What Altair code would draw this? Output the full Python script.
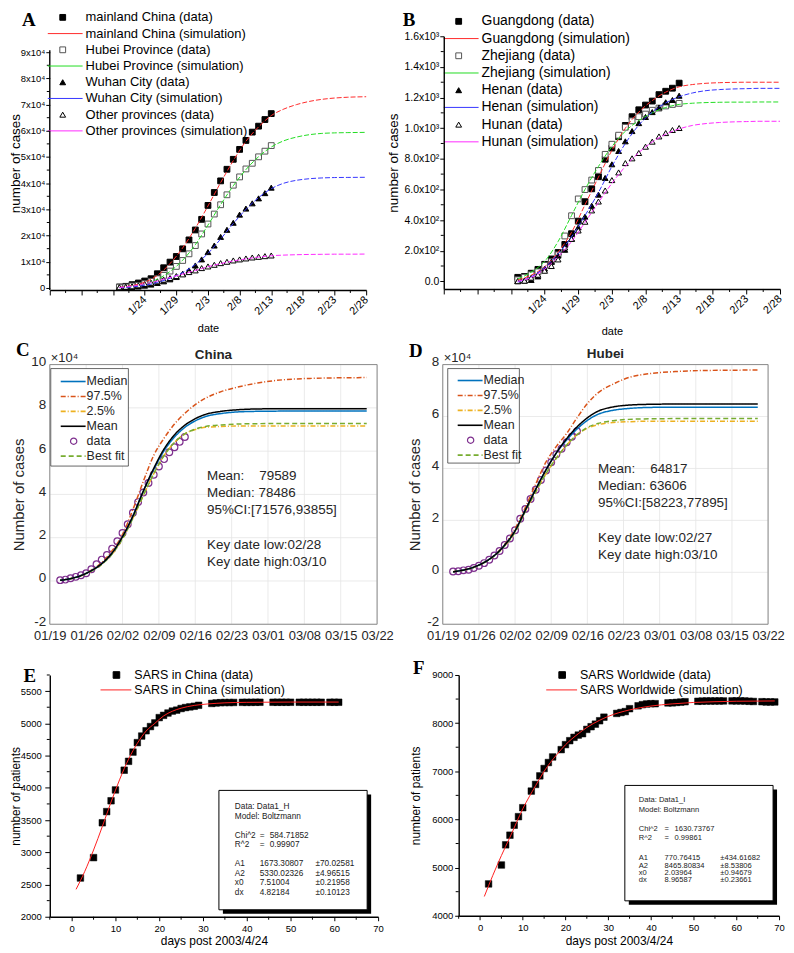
import json
import altair as alt
import pandas as pd

FONT = "Liberation Sans"
SERIF = "Liberation Serif"
ONE = pd.DataFrame({"k": [0]})

# ======================= DATA =======================
# ---- Panel A (day 0 = 1/24) ----
A_DAYS = list(range(-4, 21))  # 1/20 .. 2/13
A_SERIES = ["mainland China", "Hubei Province", "Wuhan City", "Other provinces"]
A_MAINLAND = [380, 630, 1270, 1900, 2660, 3540, 5440, 7720, 9870, 12020, 14940, 18350, 22150,
              26200, 31520, 36450, 40880, 45310, 49110, 52900, 56320, 59490, 61770, 64290, 66560]
A_HUBEI = [300, 380, 760, 1010, 1650, 2530, 3540, 4810, 6450, 8230, 10500, 13040, 16200, 20630,
           24420, 28220, 31770, 35570, 39230, 42400, 45440, 47600, 50060, 52220, 54350]
A_WUHAN = [200, 280, 420, 550, 900, 1300, 1900, 2530, 3290, 4180, 5430, 6700, 8600, 10900,
           13700, 16200, 19500, 22200, 24900, 28000, 30300, 32300, 34200, 36200, 38300]
A_OTHERS = [270, 450, 640, 1010, 1520, 2020, 2530, 3160, 3800, 4560, 5190, 6070, 6710, 7590,
            8220, 8850, 9490, 10000, 10510, 10900, 11270, 11640, 11890, 12150, 12400]
A_SIM_DAYS = [-4, -2, 0, 2, 4, 6, 8, 10, 12, 14, 16, 18, 20, 22, 24, 26, 28, 30, 32, 35]
A_SIM_MAINLAND = [200, 900, 2200, 4800, 9300, 15300, 22800, 31300, 40200, 48600, 56000, 61500,
                  65800, 68300, 70000, 71200, 72000, 72500, 72800, 73000]
A_SIM_HUBEI = [100, 600, 1500, 3300, 6300, 10600, 16500, 24000, 31800, 39000, 45200, 50100,
               53800, 56200, 57600, 58500, 59000, 59200, 59300, 59400]
A_SIM_WUHAN = [100, 400, 1000, 2100, 3700, 5900, 9000, 13200, 18700, 24600, 30000, 34500,
               37900, 40000, 41100, 41700, 42000, 42150, 42200, 42250]
A_SIM_OTHERS = [200, 700, 1600, 2700, 4000, 5300, 6700, 8100, 9300, 10300, 11100, 11800,
                12300, 12550, 12700, 12800, 12850, 12900, 12900, 12950]
A_XTICKS = [-15, -10, -5, 0, 5, 10, 15, 20, 25, 30, 35]
A_XLABELS = ["", "", "", "1/24", "1/29", "2/3", "2/8", "2/13", "2/18", "2/23", "2/28"]
A_XMINOR = [-12.5, -7.5, -2.5, 2.5, 7.5, 12.5, 17.5, 22.5, 27.5, 32.5]
A_YTICKS = [0, 10000, 20000, 30000, 40000, 50000, 60000, 70000, 80000, 90000]
A_YLABELS = ["0", "1x10\u2074", "2x10\u2074", "3x10\u2074", "4x10\u2074", "5x10\u2074",
             "6x10\u2074", "7x10\u2074", "8x10\u2074", "9x10\u2074"]
A_YMINOR = [5000, 15000, 25000, 35000, 45000, 55000, 65000, 75000, 85000]

# ---- Panel B ----
B_SERIES = ["Guangdong", "Zhejiang", "Henan", "Hunan"]
B_GD = [26, 32, 53, 78, 111, 146, 188, 241, 311, 393, 520, 604, 683, 797, 870, 944, 1018, 1075,
        1120, 1151, 1177, 1219, 1241, 1261, 1294]
B_ZJ = [10, 27, 43, 62, 104, 128, 173, 296, 428, 538, 599, 661, 724, 829, 895, 954, 1006, 1048,
        1075, 1092, 1117, 1131, 1145, 1155, 1162]
B_HN = [1, 5, 9, 32, 83, 128, 168, 206, 278, 352, 422, 493, 566, 675, 764, 851, 914, 981, 1033,
        1073, 1105, 1135, 1169, 1184, 1212]
B_HUN = [1, 4, 24, 43, 69, 100, 143, 221, 277, 332, 389, 463, 521, 593, 661, 711, 772, 803, 838,
         879, 912, 946, 968, 988, 1001]
B_SIM_GD = [10, 40, 95, 190, 320, 500, 680, 855, 1000, 1105, 1180, 1235, 1270, 1285, 1293, 1297,
            1299, 1300, 1300, 1300]
B_SIM_ZJ = [15, 60, 130, 260, 430, 600, 750, 880, 980, 1050, 1100, 1135, 1155, 1163, 1167, 1169,
            1170, 1170, 1171, 1171]
B_SIM_HN = [-5, 30, 90, 180, 290, 430, 580, 750, 900, 1020, 1105, 1165, 1205, 1230, 1245, 1252,
            1256, 1258, 1260, 1260]
B_SIM_HUN = [0, 25, 80, 160, 260, 385, 515, 640, 750, 840, 910, 960, 995, 1018, 1030, 1037, 1041,
             1043, 1045, 1045]
B_YTICKS = [0, 200, 400, 600, 800, 1000, 1200, 1400, 1600]
B_YLABELS = ["0.0", "2.0x10\u00b2", "4.0x10\u00b2", "6.0x10\u00b2", "8.0x10\u00b2",
             "1.0x10\u00b3", "1.2x10\u00b3", "1.4x10\u00b3", "1.6x10\u00b3"]
B_YMINOR = [100, 300, 500, 700, 900, 1100, 1300, 1500]

# ---- Panels C / D (day 0 = 01/19, values in 10^4) ----
CD_DATA_DAYS = list(range(2, 27))
CD_LINE_DAYS = [2, 6, 8, 10, 12, 14, 16, 18, 20, 22, 24, 26, 28, 30, 33, 36, 40, 45, 50, 61]
C_P975 = [0.03, 0.25, 0.5, 0.85, 1.4, 2.15, 3.3, 4.6, 5.8, 6.6, 7.25, 7.75, 8.15, 8.45, 8.75,
          8.95, 9.15, 9.3, 9.36, 9.4]
C_MEAN = [0.03, 0.25, 0.48, 0.8, 1.3, 2.05, 3.0, 4.15, 5.2, 6.1, 6.75, 7.2, 7.5, 7.7, 7.84, 7.91,
          7.95, 7.96, 7.96, 7.96]
C_MEDIAN = [0.03, 0.25, 0.48, 0.8, 1.3, 2.05, 3.0, 4.15, 5.15, 6.02, 6.65, 7.1, 7.4, 7.6, 7.74,
            7.81, 7.84, 7.85, 7.85, 7.85]
C_P025 = [0.03, 0.24, 0.46, 0.77, 1.25, 1.95, 2.9, 3.95, 4.95, 5.8, 6.4, 6.8, 7.0, 7.1, 7.14,
          7.16, 7.16, 7.16, 7.16, 7.16]
C_BEST = [0.03, 0.24, 0.46, 0.77, 1.25, 1.95, 2.9, 3.95, 4.95, 5.8, 6.4, 6.8, 7.02, 7.14, 7.21,
          7.25, 7.27, 7.28, 7.28, 7.28]
D_P975 = [0.02, 0.2, 0.38, 0.66, 1.08, 1.68, 2.5, 3.4, 4.25, 4.85, 5.35, 5.95, 6.5, 6.9, 7.25,
          7.5, 7.65, 7.73, 7.77, 7.79]
D_MEAN = [0.02, 0.2, 0.38, 0.65, 1.05, 1.6, 2.4, 3.2, 3.95, 4.6, 5.15, 5.6, 5.95, 6.2, 6.37, 6.44,
          6.47, 6.48, 6.48, 6.48]
D_MEDIAN = [0.02, 0.2, 0.38, 0.65, 1.05, 1.6, 2.4, 3.2, 3.95, 4.6, 5.1, 5.52, 5.85, 6.08, 6.24,
            6.31, 6.35, 6.36, 6.36, 6.36]
D_P025 = [0.02, 0.19, 0.37, 0.63, 1.02, 1.55, 2.35, 3.1, 3.8, 4.4, 4.9, 5.3, 5.55, 5.68, 5.77,
          5.8, 5.82, 5.82, 5.82, 5.82]
D_BEST = [0.02, 0.19, 0.37, 0.63, 1.02, 1.55, 2.35, 3.1, 3.8, 4.4, 4.9, 5.3, 5.58, 5.73, 5.84,
          5.89, 5.91, 5.92, 5.92, 5.92]
CD_XTICKS = [0, 7, 14, 21, 28, 35, 42, 49, 56, 63]
CD_XLABELS = ["01/19", "01/26", "02/02", "02/09", "02/16", "02/23", "03/01", "03/08", "03/15",
              "03/22"]
CD_SERIES = ["97.5%", "2.5%", "Best fit", "Median", "Mean"]
CD_LEGEND = ["Median", "97.5%", "2.5%", "Mean", "data", "Best fit"]
C_NOTES = ["Mean:\u00a0\u00a0\u00a0\u00a079589", "Median: 78486", "95%CI:[71576,93855]", "",
           "Key date low:02/28", "Key date high:03/10"]
D_NOTES = ["Mean:\u00a0\u00a0\u00a0\u00a064817", "Median: 63606", "95%CI:[58223,77895]", "",
           "Key date low:02/27", "Key date high:03/10"]

# ---- Panel E ----
E_DAYS = [2, 5, 7, 8, 9, 10, 12, 13, 14, 15, 16, 17, 18, 19, 20, 21, 22, 23, 24, 25, 26, 27, 28,
          29, 32, 33, 34, 35, 36, 37, 39, 40, 41, 42, 43, 46, 47, 48, 49, 50, 52, 53, 54, 55, 56,
          57, 59, 60, 61]
E_VALUES = [2601, 2917, 3458, 3631, 3799, 3967, 4273, 4411, 4554, 4701, 4803, 4885, 4950, 5007,
            5089, 5124, 5160, 5190, 5205, 5230, 5245, 5255, 5265, 5280, 5309, 5316, 5321, 5323,
            5323, 5324, 5326, 5326, 5326, 5327, 5327, 5327, 5327, 5327, 5327, 5327, 5327, 5327,
            5327, 5327, 5327, 5327, 5327, 5327, 5327]
E_SIM_DAYS = [1, 3, 5, 7, 9, 11, 13, 15, 17, 19, 21, 23, 25, 28, 31, 35, 40, 50, 61]
E_SIM = [2425, 2705, 3035, 3400, 3780, 4135, 4445, 4690, 4880, 5000, 5115, 5188, 5235, 5278, 5300,
         5318, 5326, 5330, 5330]
SARS_XTICKS = [0, 10, 20, 30, 40, 50, 60, 70]
SARS_XMINOR = [-5, 5, 15, 25, 35, 45, 55, 65]
E_YTICKS = [2000, 2500, 3000, 3500, 4000, 4500, 5000, 5500]
E_YMINOR = [2250, 2750, 3250, 3750, 4250, 4750, 5250, 5750]
E_LEGEND = ["SARS in China (data)", "SARS in China (simulation)"]
E_INFO_HEAD = ["Data: Data1_H", "Model: Boltzmann"]
E_INFO_FIT = [["Chi^2", "=", "584.71852"], ["R^2", "=", "0.99907"]]
E_INFO_PARAMS = [["A1", "1673.30807", "\u00b170.02581"], ["A2", "5330.02326", "\u00b14.96515"],
                 ["x0", "7.51004", "\u00b10.21958"], ["dx", "4.82184", "\u00b10.10123"]]

# ---- Panel F ----
F_DAYS = [2, 5, 6, 7, 8, 9, 10, 12, 13, 14, 15, 16, 17, 19, 20, 21, 22, 23, 24, 25, 26, 27, 28,
          29, 32, 33, 34, 35, 37, 38, 39, 40, 41, 44, 45, 46, 47, 48, 51, 52, 53, 54, 55, 56, 57,
          59, 60, 61, 62, 63, 64, 66, 67, 68, 69]
F_VALUES = [4661, 5054, 5473, 5673, 5880, 6058, 6244, 6589, 6727, 6905, 7058, 7182, 7298, 7450,
            7554, 7636, 7705, 7752, 7781, 7870, 7926, 7979, 8050, 8124, 8202, 8221, 8240, 8300,
            8360, 8384, 8398, 8404, 8404, 8420, 8422, 8430, 8437, 8445, 8454, 8458, 8460, 8460,
            8460, 8461, 8461, 8462, 8462, 8462, 8460, 8454, 8450, 8445, 8440, 8440, 8440]
F_SIM_DAYS = [1, 3, 5, 7, 10, 13, 15, 18, 20, 23, 25, 28, 30, 35, 40, 45, 50, 55, 60, 69]
F_SIM = [4400, 4840, 5250, 5630, 6220, 6700, 7000, 7350, 7550, 7780, 7910, 8060, 8140, 8275, 8355,
         8400, 8430, 8445, 8455, 8461]
F_YTICKS = [4000, 5000, 6000, 7000, 8000, 9000]
F_YMINOR = [4500, 5500, 6500, 7500, 8500]
F_LEGEND = ["SARS Worldwide (data)", "SARS Worldwide (simulation)"]
F_INFO_HEAD = ["Data: Data1_I", "Model: Boltzmann"]
F_INFO_FIT = [["Chi^2", "=", "1630.73767"], ["R^2", "=", "0.99861"]]
F_INFO_PARAMS = [["A1", "770.76415", "\u00b1434.61682"], ["A2", "8465.80834", "\u00b18.53806"],
                 ["x0", "2.03964", "\u00b10.94679"], ["dx", "8.96587", "\u00b10.23661"]]

# ======================= STYLES =======================
A_SHAPES = ["square", "square", "triangle-up", "triangle-up"]
A_FILLS = ["black", "white", "black", "white"]
A_EDGES = ["black", "#555555", "black", "black"]
A_LINES = ["#ff2a2a", "#22dd22", "#3535ff", "#ff2aff"]
CD_STYLE = {"Median": ("#0072BD", [1, 0]), "97.5%": ("#D95319", [5, 2, 1, 2]),
            "2.5%": ("#EDB120", [5, 2, 1, 2]), "Mean": ("#000000", [1, 0]),
            "Best fit": ("#77AC30", [5, 3])}
DATA_PURPLE = "#7E2F8E"
INK = "#262626"
GRID = "#e4e4e4"

ORIGIN = dict(labelFont=FONT, labelColor="black", tickColor="black", tickWidth=1,
              domainColor="black", domainWidth=1.4, grid=False, labelFlush=False,
              labelOverlap=False, titleFont=FONT, titleFontWeight="normal", titleColor="black",
              zindex=1)
MATLAB = dict(labelFont=FONT, labelColor=INK, ticks=False, domain=False, grid=False,
              labelFlush=False, labelOverlap=False, titleFont=FONT, titleFontWeight="normal",
              titleColor=INK, zindex=1)
INDEP = dict(color="independent", fill="independent", stroke="independent",
             shape="independent", strokeDash="independent")


# ======================= HELPERS =======================
def txt(x, y, s, size=12, align="left", weight="normal", font=FONT, color="black"):
    return alt.Chart(ONE).mark_text(text=s, fontSize=size, align=align, baseline="middle",
                                    font=font, fontWeight=weight, color=color).encode(
        x=alt.value(x), y=alt.value(y))


def seg(x1, y1, x2, y2, color="black", width=1.0, dash=None):
    kw = dict(color=color, strokeWidth=width)
    if dash:
        kw["strokeDash"] = dash
    return alt.Chart(ONE).mark_rule(**kw).encode(
        x=alt.value(x1), y=alt.value(y1), x2=alt.value(x2), y2=alt.value(y2))


def sym(x, y, shape, fill, stroke, size=34, sw=1.0):
    return alt.Chart(ONE).mark_point(shape=shape, size=size, fill=fill, stroke=stroke,
                                     strokeWidth=sw, filled=True, opacity=1).encode(
        x=alt.value(x), y=alt.value(y))


def rect(x1, y1, x2, y2, fill="white", stroke=None, sw=1.0, fill_opacity=1.0):
    kw = dict(fill=fill, fillOpacity=fill_opacity)
    if stroke:
        kw.update(stroke=stroke, strokeWidth=sw)
    return alt.Chart(ONE).mark_rect(**kw).encode(
        x=alt.value(x1), y=alt.value(y1), x2=alt.value(x2), y2=alt.value(y2))


def anchor(L, T, W, H, R, B):
    # invisible frame that fixes the panel's outer bounds
    return rect(-L, -T, W + R, H + B, fill="transparent", fill_opacity=0)


def label_expr(labels, start, step):
    return "%s[round((datum.value - (%s)) / %s)]" % (json.dumps(labels, ensure_ascii=False),
                                                     start, step)


def long_df(xs, values, names):
    rows = []
    for name, vals in zip(names, values):
        for x, v in zip(xs, vals):
            rows.append({"d": x, "v": v, "s": name})
    return pd.DataFrame(rows)


def minor_ticks(xvals, yvals, X, Y, H):
    out = []
    if xvals:
        out.append(alt.Chart(pd.DataFrame({"d": xvals})).mark_rule(color="black", strokeWidth=1)
                   .encode(x=X, y=alt.value(H), y2=alt.value(H + 3)))
    if yvals:
        out.append(alt.Chart(pd.DataFrame({"v": yvals})).mark_rule(color="black", strokeWidth=1)
                   .encode(y=Y, x=alt.value(-3), x2=alt.value(0)))
    return out


# ======================= PANEL A / B (Origin style) =======================
def origin_panel(W, H, ydom, yticks, ylabels, ystep, yminor, names, data_vals, sim_vals,
                 ylabel_size, title_x, date_title_y, leg_x, leg_y0, leg_step, leg_size,
                 letter, letter_xy, anch, yline_top=None):
    xs = alt.Scale(domain=[-15, 35], nice=False, zero=False)
    ys = alt.Scale(domain=ydom, nice=False, zero=False)
    ax_x = alt.Axis(values=A_XTICKS, labelExpr=label_expr(A_XLABELS, -15, 5), labelAngle=315,
                    labelAlign="right", labelBaseline="middle", labelFontSize=11, tickSize=5,
                    labelPadding=3, title="date", titleFontSize=11, titleY=date_title_y,
                    titleBaseline="middle", **ORIGIN)
    ax_y = alt.Axis(values=yticks, labelExpr=label_expr(ylabels, 0, ystep),
                    labelFontSize=ylabel_size, tickSize=4, labelPadding=1,
                    title="number of cases", titleFontSize=13.5, titleX=title_x,
                    titleBaseline="middle", domain=yline_top is None, **ORIGIN)
    X = alt.X("d:Q", scale=xs, axis=ax_x)
    Y = alt.Y("v:Q", scale=ys, axis=ax_y)
    pts = alt.Chart(long_df(A_DAYS, data_vals, names)).mark_point(
        size=34, strokeWidth=1, filled=True, opacity=1).encode(
        x=X, y=Y,
        shape=alt.Shape("s:N", scale=alt.Scale(domain=names, range=A_SHAPES), legend=None),
        fill=alt.Fill("s:N", scale=alt.Scale(domain=names, range=A_FILLS), legend=None),
        stroke=alt.Stroke("s:N", scale=alt.Scale(domain=names, range=A_EDGES), legend=None),
    )
    lines = alt.Chart(long_df(A_SIM_DAYS, sim_vals, names)).mark_line(
        strokeWidth=1, strokeDash=[5, 2], interpolate="monotone").encode(
        x=X, y=Y,
        color=alt.Color("s:N", scale=alt.Scale(domain=names, range=A_LINES), legend=None),
    )
    layers = [anchor(anch[0], anch[1], W, H, anch[2], anch[3]), pts, lines]
    if yline_top is not None:
        layers.append(alt.Chart(pd.DataFrame({"v": [ydom[0]], "v2": [yline_top]}))
                      .mark_rule(color="black", strokeWidth=1.4)
                      .encode(x=alt.value(0), y=Y, y2="v2:Q"))
    layers += minor_ticks(A_XMINOR, yminor, X, Y, H)
    for i, name in enumerate(names):
        y_data = leg_y0 + (2 * i) * leg_step
        y_sim = leg_y0 + (2 * i + 1) * leg_step
        layers.append(sym(leg_x + 15, y_data, A_SHAPES[i], A_FILLS[i], A_EDGES[i]))
        layers.append(txt(leg_x + 38, y_data, name + " (data)", size=leg_size))
        layers.append(seg(leg_x, y_sim, leg_x + 35, y_sim, color=A_LINES[i], width=1))
        layers.append(txt(leg_x + 38, y_sim, name + " (simulation)", size=leg_size))
    layers.append(txt(letter_xy[0], letter_xy[1], letter, size=19, align="center",
                      weight="bold", font=SERIF))
    return alt.layer(*layers).properties(width=W, height=H)


# A: plot area shares its top with B; y-domain extended above 9x10^4 (axis line drawn to 9x10^4)
A = origin_panel(318, 255, [-760, 96076], A_YTICKS, A_YLABELS, 10000, A_YMINOR, A_SERIES,
                 [A_MAINLAND, A_HUBEI, A_WUHAN, A_OTHERS],
                 [A_SIM_MAINLAND, A_SIM_HUBEI, A_SIM_WUHAN, A_SIM_OTHERS],
                 9.5, -34, 39, -2, -19, 16.3, 13, "A", (-21, -16), (41, 25, 18, 48),
                 yline_top=90700)
B = origin_panel(338, 254, [-50, 1600], B_YTICKS, B_YLABELS, 200, B_YMINOR, B_SERIES,
                 [B_GD, B_ZJ, B_HN, B_HUN], [B_SIM_GD, B_SIM_ZJ, B_SIM_HN, B_SIM_HUN],
                 10.5, -50, 43, 0, -15, 17.3, 14, "B", (-35, -16), (58, 25, 5, 49))


# ======================= PANEL C / D (MATLAB style) =======================
def matlab_panel(W, H, ymax, curves, data_vals, title, notes, note_xy, leg_box, leg_y0,
                 letter, letter_xy, title_x, anch):
    xs = alt.Scale(domain=[0, 63], nice=False, zero=False)
    ys = alt.Scale(domain=[-2, ymax], nice=False, zero=False)
    yt = list(range(-2, ymax + 1, 2))
    ax_x = alt.Axis(values=CD_XTICKS, labelExpr=label_expr(CD_XLABELS, 0, 7), labelFontSize=13,
                    labelPadding=5, title=None, **MATLAB)
    ax_y = alt.Axis(values=yt, labelExpr="'' + datum.value",
                    labelFontSize=13.5, labelPadding=4, labelOffset=-3, title="Number of cases",
                    titleFontSize=15, titleX=title_x, titleBaseline="middle", **MATLAB)
    X = alt.X("d:Q", scale=xs, axis=ax_x)
    Y = alt.Y("v:Q", scale=ys, axis=ax_y)
    vgrid = alt.Chart(pd.DataFrame({"d": CD_XTICKS})).mark_rule(color=GRID, strokeWidth=0.8).encode(
        x=X, y=alt.value(0), y2=alt.value(H))
    hgrid = alt.Chart(pd.DataFrame({"v": yt})).mark_rule(color=GRID, strokeWidth=0.8).encode(
        y=Y, x=alt.value(0), x2=alt.value(W))
    names = CD_SERIES
    lines = alt.Chart(long_df(CD_LINE_DAYS, [curves[n] for n in names], names)).mark_line(
        strokeWidth=1.5, interpolate="monotone").encode(
        x=X, y=Y,
        color=alt.Color("s:N", scale=alt.Scale(domain=names, range=[CD_STYLE[n][0] for n in names]),
                        legend=None),
        strokeDash=alt.StrokeDash("s:N", scale=alt.Scale(domain=names,
                                                         range=[CD_STYLE[n][1] for n in names]),
                                  legend=None),
    )
    pts_df = pd.DataFrame({"d": CD_DATA_DAYS, "v": [v / 10000 for v in data_vals]})
    pts = alt.Chart(pts_df).mark_point(shape="circle", size=46, stroke=DATA_PURPLE,
                                       strokeWidth=1.2, filled=False, opacity=1).encode(x=X, y=Y)
    layers = [anchor(anch[0], anch[1], W, H, anch[2], anch[3]), vgrid, hgrid, pts, lines,
              rect(0, 0, W, H, fill="white", stroke="#8a8a8a", sw=1, fill_opacity=0)]
    bx1, by1, bx2, by2 = leg_box
    layers.append(rect(bx1, by1, bx2, by2, fill="white", stroke=INK, sw=0.7))
    for i, name in enumerate(CD_LEGEND):
        y = leg_y0 + 15 * i
        if name == "data":
            layers.append(sym(bx1 + 23, y, "circle", "white", DATA_PURPLE, size=40, sw=1.2))
        else:
            c, dsh = CD_STYLE[name]
            layers.append(seg(bx1 + 10, y, bx1 + 35, y, color=c, width=1.6,
                              dash=dsh if dsh != [1, 0] else None))
        layers.append(txt(bx1 + 36, y, name, size=12.5, color=INK))
    for i, line in enumerate(notes):
        if line:
            layers.append(txt(note_xy[0], note_xy[1] + 17.3 * i, line, size=13.5, color=INK))
    layers.append(txt(1, letter_xy[3], "\u00d710\u2074", size=13, color=INK))
    layers.append(txt(W / 2, letter_xy[2], title, size=13.5, align="center", weight="bold",
                      color=INK))
    layers.append(txt(letter_xy[0], letter_xy[1], letter, size=19, align="center",
                      weight="bold", font=SERIF))
    return alt.layer(*layers).properties(width=W, height=H)


C = matlab_panel(329, 261, 10,
                 {"Median": C_MEDIAN, "97.5%": C_P975, "2.5%": C_P025, "Mean": C_MEAN,
                  "Best fit": C_BEST},
                 A_MAINLAND, "China", C_NOTES, (158, 112), (1, 4, 79, 102), 17, "C",
                 (-27, -15, -10, -7), -31, (41, 25, 18, 24))
D = matlab_panel(327, 261, 8,
                 {"Median": D_MEDIAN, "97.5%": D_P975, "2.5%": D_P025, "Mean": D_MEAN,
                  "Best fit": D_BEST},
                 A_HUBEI, "Hubei", D_NOTES, (156, 105), (5, 4, 77, 99), 16, "D",
                 (-27, -14, -11, -7), -28, (46, 25, 17, 24))


# ======================= PANEL E / F (Origin SARS) =======================
def sars_panel(W, H, ydom, yticks, yminor, days, values, sim_days, sim, legend, leg_xy,
               head, fit, params, box, info_x, info_y, info_size, letter, letter_xy,
               title_x, ypad, ytick, xtitle_y, anch):
    xs = alt.Scale(domain=[-5, 70], nice=False, zero=False)
    ys = alt.Scale(domain=ydom, nice=False, zero=False)
    ax_x = alt.Axis(values=SARS_XTICKS, format="d", labelFontSize=9.5, tickSize=4,
                    labelPadding=3, title="days post 2003/4/24", titleFontSize=12,
                    titleY=xtitle_y, titleBaseline="middle", **ORIGIN)
    ax_y = alt.Axis(values=yticks, format="d", labelFontSize=9.5, tickSize=ytick,
                    labelPadding=ypad, title="number of patients", titleFontSize=12,
                    titleX=title_x, titleBaseline="middle", **ORIGIN)
    X = alt.X("d:Q", scale=xs, axis=ax_x)
    Y = alt.Y("v:Q", scale=ys, axis=ax_y)
    pts = alt.Chart(pd.DataFrame({"d": days, "v": values})).mark_point(
        shape="square", size=44, fill="black", stroke="black", strokeWidth=0.5, filled=True,
        opacity=1).encode(x=X, y=Y)
    line = alt.Chart(pd.DataFrame({"d": sim_days, "v": sim})).mark_line(
        color="#ff2020", strokeWidth=1, interpolate="monotone").encode(x=X, y=Y)
    layers = [anchor(anch[0], anch[1], W, H, anch[2], anch[3]), pts, line]
    layers += minor_ticks(SARS_XMINOR, yminor, X, Y, H)
    lx, ly = leg_xy
    layers.append(sym(lx + 16, ly, "square", "black", "black", size=44))
    layers.append(txt(lx + 34, ly, legend[0], size=12.5))
    layers.append(seg(lx, ly + 15, lx + 31, ly + 15, color="#ff2020", width=1))
    layers.append(txt(lx + 34, ly + 15, legend[1], size=12.5))
    x1, y1, x2, y2 = box
    layers.append(rect(x1 + 4, y1 + 4, x2 + 4, y2 + 4, fill="black"))
    layers.append(rect(x1, y1, x2, y2, fill="white", stroke="black", sw=1))
    c0, c1, c2 = info_x
    for i, s in enumerate(head):
        layers.append(txt(c0, info_y[0] + info_y[1] * i, s, size=info_size, color="#222222"))
    for i, (a, eq, b) in enumerate(fit):
        yy = info_y[2] + info_y[1] * 0.85 * i
        layers.append(txt(c0, yy, a, size=info_size, color="#222222"))
        layers.append(txt(c1, yy, eq, size=info_size, color="#222222"))
        layers.append(txt(c1 + 10, yy, b, size=info_size, color="#222222"))
    for i, (a, b, c) in enumerate(params):
        yy = info_y[3] + info_y[4] * i
        layers.append(txt(c0, yy, a, size=info_size, color="#222222"))
        layers.append(txt(c1, yy, b, size=info_size, color="#222222"))
        layers.append(txt(c2, yy, c, size=info_size, color="#222222"))
    layers.append(txt(letter_xy[0], letter_xy[1], letter, size=19, align="center",
                      weight="bold", font=SERIF))
    return alt.layer(*layers).properties(width=W, height=H)


E = sars_panel(330, 243, [2000, 5750], E_YTICKS, E_YMINOR, E_DAYS, E_VALUES, E_SIM_DAYS, E_SIM,
               E_LEGEND, (51, 0), E_INFO_HEAD, E_INFO_FIT, E_INFO_PARAMS,
               (170, 116, 319, 236), (186, 211, 267), (133, 10, 162, 190, 9.7), 8.3,
               "E", (-20, 1), -34.5, 3.5, 5, 23.5, (41, 25, 13, 30))
F = sars_panel(322, 242, [4000, 9000], F_YTICKS, F_YMINOR, F_DAYS, F_VALUES, F_SIM_DAYS, F_SIM,
               F_LEGEND, (88, 0), F_INFO_HEAD, F_INFO_FIT, F_INFO_PARAMS,
               (167, 111, 316, 227), (181, 207, 263), (126, 10, 155, 184, 7.5), 7.6,
               "F", (-40, -7), -43, 2, 4, 24.5, (66, 25, 6, 31))

row1 = alt.hconcat(A, B, spacing=0).resolve_scale(**INDEP)
row2 = alt.hconcat(C, D, spacing=0).resolve_scale(**INDEP)
row3 = alt.hconcat(E, F, spacing=0).resolve_scale(**INDEP)
chart = (alt.vconcat(row1, row2, row3, spacing=0)
         .resolve_scale(**INDEP)
         .properties(padding=0)
         .configure_view(stroke="transparent"))

chart.save("out.html", embed_options={"renderer": "svg", "actions": False})
